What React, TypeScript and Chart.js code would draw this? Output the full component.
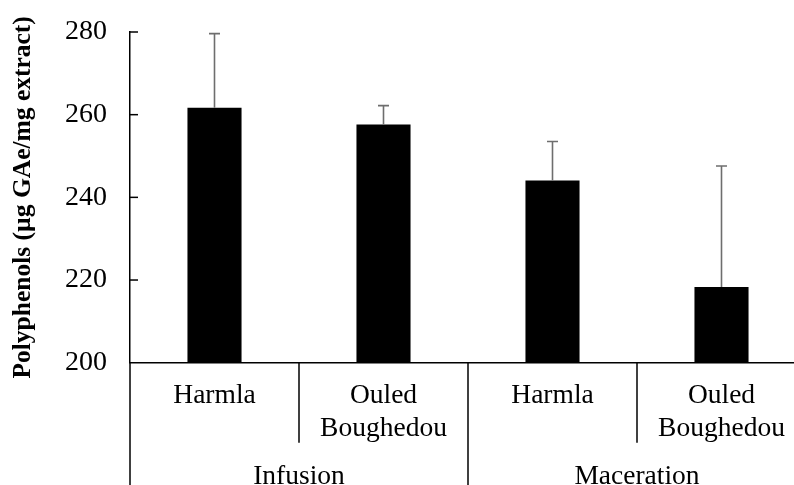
import React, { useEffect, useRef } from "react";
import { Chart, registerables } from "chart.js";

Chart.register(...registerables);

const categories: string[][] = [["Harmla"], ["Ouled", "Boughedou"], ["Harmla"], ["Ouled", "Boughedou"]];
const groups: string[] = ["Infusion", "Infusion", "Maceration", "Maceration"];
const values: number[] = [261.7, 257.6, 244.1, 218.3];
const errors: number[] = [17.9, 4.6, 9.4, 29.3];
const yTicks: number[] = [200, 220, 240, 260, 280];
const yTitle = "Polyphenols (\u00b5g GAe/mg extract)";

const SERIF = "'Liberation Serif', 'Times New Roman', serif";

const overlay = {
  id: "overlay",
  afterDatasetsDraw(chart: any) {
    const ctx = chart.ctx;
    const y = chart.scales.y;
    const meta = chart.getDatasetMeta(0);
    ctx.save();
    ctx.strokeStyle = "#6e6e6e";
    ctx.lineWidth = 1.6;
    values.forEach((v, i) => {
      const bx = meta.data[i].x;
      const yTop = y.getPixelForValue(v + errors[i]);
      const yBase = y.getPixelForValue(v);
      ctx.beginPath();
      ctx.moveTo(bx, yBase);
      ctx.lineTo(bx, yTop);
      ctx.moveTo(bx - 5.5, yTop);
      ctx.lineTo(bx + 5.5, yTop);
      ctx.stroke();
    });
    ctx.restore();
  },
  afterDraw(chart: any) {
    const ctx = chart.ctx;
    const x = chart.scales.x;
    const y = chart.scales.y;
    const n = categories.length;
    const step = x.getPixelForValue(1) - x.getPixelForValue(0);
    const bottomY = y.getPixelForValue(yTicks[0]);
    const canvasBottom = chart.height;
    ctx.save();
    ctx.strokeStyle = "#000";
    ctx.lineWidth = 1.5;
    yTicks.forEach((t) => {
      if (t === yTicks[0]) return;
      const py = y.getPixelForValue(t);
      ctx.beginPath();
      ctx.moveTo(x.left, py);
      ctx.lineTo(x.left + 8, py);
      ctx.stroke();
    });
    for (let i = 0; i <= n; i++) {
      const px = x.getPixelForValue(0) - step / 2 + i * step;
      const isGroupEdge = i === 0 || i === n || groups[i] !== groups[i - 1];
      ctx.beginPath();
      ctx.moveTo(px, bottomY);
      ctx.lineTo(px, isGroupEdge ? canvasBottom : bottomY + 80);
      ctx.stroke();
    }
    ctx.fillStyle = "#000";
    ctx.font = `27.5px ${SERIF}`;
    ctx.textAlign = "center";
    ctx.textBaseline = "alphabetic";
    categories.forEach((lines, i) => {
      const px = x.getPixelForValue(i);
      lines.forEach((line, j) => {
        ctx.fillText(line, px, bottomY + 40 + j * 33);
      });
    });
    let start = 0;
    for (let i = 1; i <= n; i++) {
      if (i === n || groups[i] !== groups[start]) {
        const px = (x.getPixelForValue(start) + x.getPixelForValue(i - 1)) / 2;
        ctx.fillText(groups[start], px, bottomY + 121);
        start = i;
      }
    }
    ctx.restore();
  },
};

export default function App() {
  const ref = useRef<HTMLCanvasElement | null>(null);
  useEffect(() => {
    if (!ref.current) return;
    const chart = new Chart(ref.current, {
      type: "bar",
      data: {
        labels: categories.map((c) => c.join(" ")),
        datasets: [
          {
            data: values,
            backgroundColor: "#000",
            borderWidth: 0,
            barPercentage: 0.32,
            categoryPercentage: 1,
          },
        ],
      },
      options: {
        responsive: false,
        animation: false,
        layout: { padding: { top: 32, right: 14, left: 0, bottom: 0 } },
        plugins: { legend: { display: false }, tooltip: { enabled: false } },
        scales: {
          x: {
            type: "category",
            offset: true,
            grid: { display: false, drawTicks: false },
            border: { display: true, color: "#000", width: 1.5 },
            ticks: { display: false },
            afterFit: (s: any) => {
              s.height = 122.3;
            },
          },
          y: {
            min: 200,
            max: 280,
            grid: { display: false, drawTicks: false },
            border: { display: true, color: "#000", width: 1.5 },
            ticks: {
              stepSize: 20,
              padding: 23,
              color: "#000",
              font: { family: SERIF, size: 28 },
            },
            title: {
              display: true,
              text: yTitle,
              color: "#000",
              font: { family: SERIF, size: 25.5, weight: "bold" },
              padding: { top: 8, bottom: 0 },
            },
            afterFit: (s: any) => {
              s.width = 130;
              s.paddingTop = 0;
              s.paddingBottom = 0;
            },
          },
        },
      },
      plugins: [overlay],
    });
    return () => chart.destroy();
  }, []);
  return (
    <div style={{ position: "absolute", left: 0, top: 0, width: 794, height: 485, overflow: "hidden", background: "#fff" }}>
      <canvas ref={ref} width={820} height={485} style={{ display: "block" }} />
    </div>
  );
}
